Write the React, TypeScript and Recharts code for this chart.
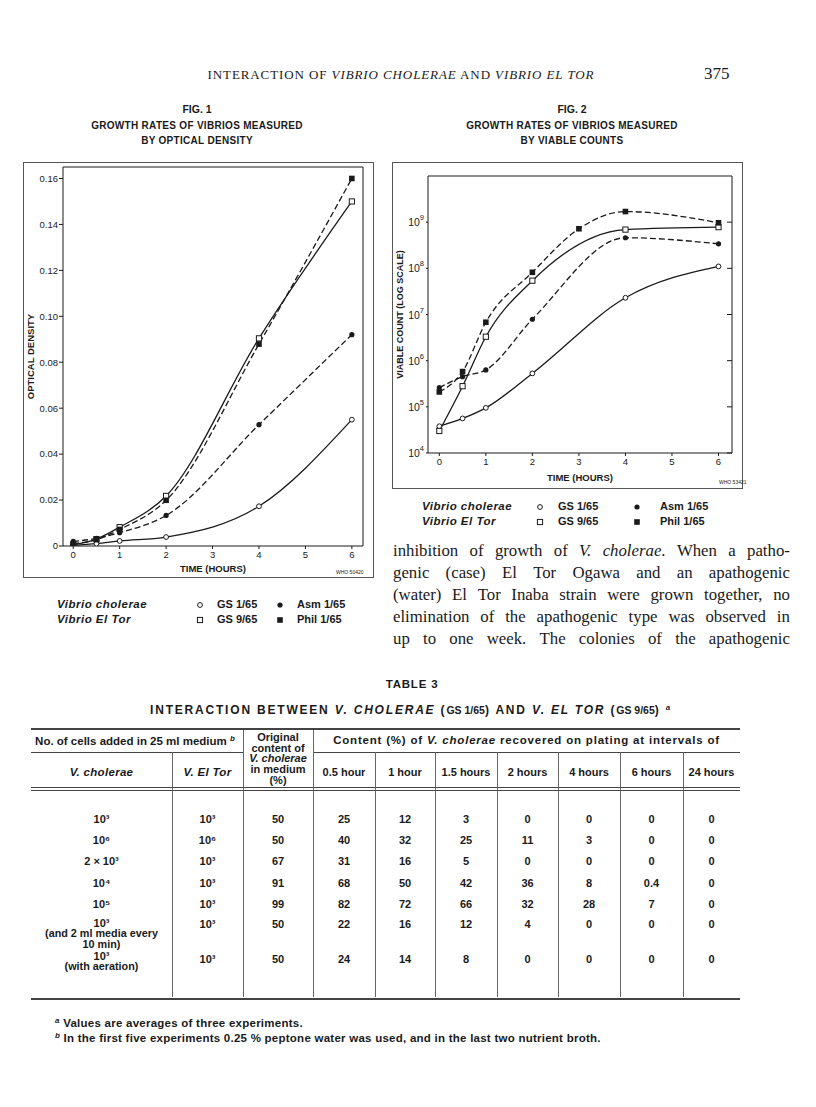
import React from 'react';
import { LineChart, Line, XAxis, YAxis } from 'recharts';

document.body.style.margin = '0';

// ---- Fig. 1: optical density ----
const odHours = [0, 0.5, 1, 2, 4, 6];
const odGS1 = [0.0003, 0.001, 0.0022, 0.0039, 0.0173, 0.055];
const odAsm1 = [0.002, 0.0033, 0.0058, 0.0133, 0.0528, 0.092];
const odGS9 = [0.0005, 0.003, 0.0082, 0.0218, 0.0904, 0.15];
const odPhil1 = [0.001, 0.0028, 0.0072, 0.0199, 0.0879, 0.16];
const odTicks = [0, 0.02, 0.04, 0.06, 0.08, 0.1, 0.12, 0.14, 0.16];
const odTickLabels = ['0', '0.02', '0.04', '0.06', '0.08', '0.10', '0.12', '0.14', '0.16'];

// ---- Fig. 2: viable counts ----
const vcHours = [0, 0.5, 1, 2, 3, 4, 6];
const vcGS1 = [3.8e4, 5.6e4, 9.5e4, 5.3e5, null, 2.3e7, 1.1e8];
const vcGS9 = [3.0e4, 2.8e5, 3.3e6, 5.4e7, null, 6.9e8, 7.8e8];
const vcAsm1 = [2.6e5, 4.5e5, 6.3e5, 7.9e6, null, 4.6e8, 3.4e8];
const vcPhil1 = [2.1e5, 5.8e5, 6.8e6, 8.2e7, 7.2e8, 1.7e9, 9.7e8];
const vcTicks = [1e4, 1e5, 1e6, 1e7, 1e8, 1e9];

const hourTicks = [0, 1, 2, 3, 4, 5, 6];

// ---- Table 3 ----
const cholCells = [
  ['10³'], ['10⁶'], ['2 × 10³'], ['10⁴'], ['10⁵'],
  ['10³', '(and 2 ml media every', '10 min)'],
  ['10³', '(with aeration)'],
];
const elTorCells = ['10³', '10⁶', '10³', '10³', '10³', '10³', '10³'];
const originalPct = ['50', '50', '67', '91', '99', '50', '50'];
const intervals = ['0.5 hour', '1 hour', '1.5 hours', '2 hours', '4 hours', '6 hours', '24 hours'];
const recovered = [
  ['25', '12', '3', '0', '0', '0', '0'],
  ['40', '32', '25', '11', '3', '0', '0'],
  ['31', '16', '5', '0', '0', '0', '0'],
  ['68', '50', '42', '36', '8', '0.4', '0'],
  ['82', '72', '66', '32', '28', '7', '0'],
  ['22', '16', '12', '4', '0', '0', '0'],
  ['24', '14', '8', '0', '0', '0', '0'],
];

const bodyLines = [
  'inhibition of growth of V. cholerae. When a patho-',
  'genic (case) El Tor Ogawa and an apathogenic',
  '(water) El Tor Inaba strain were grown together, no',
  'elimination of the apathogenic type was observed in',
  'up to one week. The colonies of the apathogenic',
];

// layout
const colEdges = [31, 172, 243, 313, 375, 435, 497, 558, 620, 683, 740];
const rowY = [819, 840, 861, 883, 904, 924, 959];
const cholRowY = [819, 840, 861, 883, 904, 923, 956];

const SANS = "'Liberation Sans', Arial, sans-serif";
const SERIF = "'Liberation Serif', 'Times New Roman', serif";
const INK = '#1a1a1a';

const odData = odHours.map((h, i) => ({ h, gs1: odGS1[i], asm1: odAsm1[i], gs9: odGS9[i], phil1: odPhil1[i] }));
const vcData = vcHours.map((h, i) => ({ h, gs1: vcGS1[i], asm1: vcAsm1[i], gs9: vcGS9[i], phil1: vcPhil1[i] }));

type Kind = 'openCircle' | 'dot' | 'openSquare' | 'square';

const marker = (kind: Kind) => (p: any) => {
  const { cx, cy, index } = p;
  const k = `${kind}-${index}`;
  if (cx == null || cy == null || p.value == null) return <g key={k} />;
  if (kind === 'openCircle') return <circle key={k} cx={cx} cy={cy} r={2.4} fill="#fff" stroke={INK} strokeWidth={1} />;
  if (kind === 'dot') return <circle key={k} cx={cx} cy={cy} r={2.6} fill={INK} />;
  if (kind === 'openSquare') return <rect key={k} x={cx - 2.6} y={cy - 2.6} width={5.2} height={5.2} fill="#fff" stroke={INK} strokeWidth={1} />;
  return <rect key={k} x={cx - 2.8} y={cy - 2.8} width={5.6} height={5.6} fill={INK} />;
};

const series = [
  { key: 'gs1', kind: 'openCircle' as Kind, dash: undefined },
  { key: 'asm1', kind: 'dot' as Kind, dash: '6 3' },
  { key: 'gs9', kind: 'openSquare' as Kind, dash: undefined },
  { key: 'phil1', kind: 'square' as Kind, dash: '6 3' },
];

const PowTick = (p: any) => {
  const exp = Math.round(Math.log10(p.payload.value));
  return (
    <text x={p.x} y={p.y} dy={4} textAnchor="end" fontFamily={SANS} fontSize={10.5} fill={INK}>
      10<tspan dy={-6} fontSize={7.5}>{exp}</tspan>
    </text>
  );
};

const At = ({ x, y, w, h, style, children }: any) => (
  <div style={{ position: 'absolute', left: x, top: y, width: w, height: h, ...style }}>{children}</div>
);

const Txt = ({ x, y, w, align = 'left', size = 11, font = SANS, weight = 700, italic = false, style, children }: any) => (
  <div
    style={{
      position: 'absolute', left: x, top: y - 8, width: w, height: 16, lineHeight: '16px',
      textAlign: align, fontSize: size, fontFamily: font, fontWeight: weight,
      fontStyle: italic ? 'italic' : 'normal', color: INK, whiteSpace: 'nowrap', ...style,
    }}
  >
    {children}
  </div>
);

const Sym = ({ x, y, kind }: { x: number; y: number; kind: Kind }) => (
  <svg style={{ position: 'absolute', left: x - 4, top: y - 4 }} width={8} height={8}>
    {marker(kind)({ cx: 4, cy: 4, index: 0, value: 1 })}
  </svg>
);

const LegendBlock = ({ x, y, sym, gs, dot, asm }: any) => (
  <>
    <Txt x={x} y={y} italic size={11.5} style={{ letterSpacing: 0.5 }}>Vibrio cholerae</Txt>
    <Txt x={x} y={y + 14.5} italic size={11.5} style={{ letterSpacing: 0.5 }}>Vibrio El Tor</Txt>
    <Sym x={sym} y={y + 1} kind="openCircle" />
    <Sym x={sym} y={y + 15.5} kind="openSquare" />
    <Txt x={gs} y={y}>GS 1/65</Txt>
    <Txt x={gs} y={y + 14.5}>GS 9/65</Txt>
    <Sym x={dot} y={y + 1} kind="dot" />
    <Sym x={dot} y={y + 15.5} kind="square" />
    <Txt x={asm} y={y}>Asm 1/65</Txt>
    <Txt x={asm} y={y + 14.5}>Phil 1/65</Txt>
  </>
);

const axisTick = { fontSize: 9.5, fontFamily: SANS, fill: INK };
const axisLabelStyle = { fontSize: 9.5, fontFamily: SANS, fontWeight: 700, fill: INK };

function Fig1() {
  return (
    <At x={24} y={163} w={349} h={414} style={{ outline: `1px solid #555` }}>
      <LineChart width={349} height={414} data={odData} margin={{ top: 4, right: 10, left: 0, bottom: 3 }}>
        <XAxis
          dataKey="h" type="number" domain={[-0.22, 6.24]} ticks={hourTicks} allowDataOverflow
          tick={axisTick} tickSize={3} stroke={INK} height={28}
          label={{ value: 'TIME (HOURS)', position: 'insideBottom', offset: 2, style: axisLabelStyle }}
        />
        <XAxis xAxisId="top" orientation="top" mirror type="number" domain={[-0.22, 6.24]} tick={false} tickLine={false} stroke={INK} />
        <YAxis
          type="number" domain={[0, 0.165]} ticks={odTicks} allowDataOverflow width={39}
          tickFormatter={(v: number) => odTickLabels[odTicks.indexOf(v)] ?? ''}
          tick={axisTick} tickSize={4} tickMargin={1} stroke={INK}
          label={{ value: 'OPTICAL DENSITY', angle: -90, position: 'insideLeft', offset: 7, style: { ...axisLabelStyle, textAnchor: 'middle' } }}
        />
        <YAxis yAxisId="r" orientation="right" mirror type="number" domain={[0, 0.165]} ticks={odTicks} tickFormatter={() => ''} tickSize={5} stroke={INK} />
        {series.map((s) => (
          <Line
            key={s.key} dataKey={s.key} type="monotone" stroke={INK} strokeWidth={1.3}
            strokeDasharray={s.dash} dot={marker(s.kind)} activeDot={false} isAnimationActive={false}
          />
        ))}
      </LineChart>
      <Txt x={312} y={409} size={5} weight={400}>WHO 50420</Txt>
    </At>
  );
}

function Fig2() {
  return (
    <At x={393} y={163} w={349} h={325} style={{ outline: `1px solid #555` }}>
      <LineChart width={349} height={325} data={vcData} margin={{ top: 13, right: 10, left: 0, bottom: 5 }}>
        <XAxis
          dataKey="h" type="number" domain={[-0.243, 6.29]} ticks={hourTicks} allowDataOverflow
          tick={axisTick} tickSize={3} stroke={INK} height={30}
          label={{ value: 'TIME (HOURS)', position: 'insideBottom', offset: 2, style: axisLabelStyle }}
        />
        <XAxis xAxisId="top" orientation="top" mirror type="number" domain={[-0.243, 6.29]} tick={false} tickLine={false} stroke={INK} />
        <YAxis
          scale="log" type="number" domain={[1e4, 1e10]} ticks={vcTicks} allowDataOverflow width={35}
          tick={<PowTick />} tickSize={2} stroke={INK}
          label={{ value: 'VIABLE COUNT (LOG SCALE)', angle: -90, position: 'insideLeft', offset: 7, style: { ...axisLabelStyle, fontSize: 9, textAnchor: 'middle' } }}
        />
        <YAxis yAxisId="r" orientation="right" mirror scale="log" type="number" domain={[1e4, 1e10]} ticks={vcTicks} allowDataOverflow tickFormatter={() => ''} tickSize={5} stroke={INK} />
        {series.map((s) => (
          <Line
            key={s.key} dataKey={s.key} type="monotone" stroke={INK} strokeWidth={1.3} connectNulls
            strokeDasharray={s.dash} dot={marker(s.kind)} activeDot={false} isAnimationActive={false}
          />
        ))}
      </LineChart>
      <Txt x={326} y={319} size={5} weight={400}>WHO 53421</Txt>
    </At>
  );
}

const Rule = ({ x1, x2, y, t = 1 }: any) => <At x={x1} y={y} w={x2 - x1} h={t} style={{ background: '#444' }} />;
const VRule = ({ x, y1, y2 }: any) => <At x={x} y={y1} w={1} h={y2 - y1} style={{ background: '#666' }} />;

const sup = { fontSize: 8, verticalAlign: 4 };

function Table3() {
  const left = colEdges[0];
  const right = colEdges[colEdges.length - 1];
  const cx = (i: number) => (colEdges[i] + colEdges[i + 1]) / 2;
  return (
    <>
      <Txt x={0} y={684} w={824} align="center" size={11.5} style={{ letterSpacing: 0.8 }}>TABLE 3</Txt>
      <Txt x={0} y={708} w={822} align="center" size={12} style={{ letterSpacing: 1.8 }}>
        INTERACTION BETWEEN <i>V. CHOLERAE</i> (<span style={{ fontSize: 10.5, letterSpacing: 0 }}>GS 1/65</span>) AND <i>V. EL TOR</i> (<span style={{ fontSize: 10.5, letterSpacing: 0 }}>GS 9/65</span>) <i style={sup}>a</i>
      </Txt>
      <Rule x1={left} x2={right} y={728} t={1.5} />
      <Rule x1={left} x2={colEdges[2]} y={752} />
      <Rule x1={colEdges[3]} x2={right} y={752} />
      <Rule x1={left} x2={right} y={787} />
      <Rule x1={left} x2={right} y={790} />
      <Rule x1={left} x2={right} y={998} t={1.5} />
      <VRule x={colEdges[1]} y1={752} y2={997} />
      <VRule x={colEdges[2]} y1={730} y2={997} />
      <VRule x={colEdges[3]} y1={730} y2={997} />
      {colEdges.slice(4, -1).map((x) => <VRule key={x} x={x} y1={752} y2={997} />)}

      <Txt x={left} y={739} w={colEdges[2] - left - 4} align="center" size={11.5}>
        No. of cells added in 25 ml medium <i style={sup}>b</i>
      </Txt>
      {['Original', 'content of', 'V. cholerae', 'in medium', '(%)'].map((t, i) => (
        <Txt key={t} x={colEdges[2]} y={736 + i * 10.7} w={colEdges[3] - colEdges[2]} align="center" italic={i === 2} style={{ lineHeight: '12px', height: 12, top: 731 + i * 10.7 }}>{t}</Txt>
      ))}
      <Txt x={colEdges[3]} y={740} w={right - colEdges[3]} align="center" size={11.5} style={{ letterSpacing: 0.8 }}>
        Content (%) of <i>V. cholerae</i> recovered on plating at intervals of
      </Txt>
      <Txt x={left} y={772} w={colEdges[1] - left} align="center" italic size={11.5} style={{ letterSpacing: 0.3 }}>V. cholerae</Txt>
      <Txt x={colEdges[1]} y={772} w={colEdges[2] - colEdges[1]} align="center" italic size={11.5} style={{ letterSpacing: 0.3 }}>V. El Tor</Txt>
      {intervals.map((t, i) => (
        <Txt key={t} x={colEdges[i + 3]} y={772} w={colEdges[i + 4] - colEdges[i + 3]} align="center">{t}</Txt>
      ))}

      {cholCells.map((lines, r) =>
        lines.map((t, j) => (
          <Txt
            key={`c${r}-${j}`} x={left} y={cholRowY[r] + j * 10.5} w={colEdges[1] - left} align="center"
            size={j > 0 ? 10.8 : 11} style={{ lineHeight: '11px', height: 11, top: cholRowY[r] + j * 10.5 - 5.5 }}
          >
            {t}
          </Txt>
        )),
      )}
      {elTorCells.map((t, r) => (
        <Txt key={`e${r}`} x={colEdges[1]} y={rowY[r]} w={colEdges[2] - colEdges[1]} align="center">{t}</Txt>
      ))}
      {originalPct.map((t, r) => (
        <Txt key={`o${r}`} x={colEdges[2]} y={rowY[r]} w={colEdges[3] - colEdges[2]} align="center">{t}</Txt>
      ))}
      {recovered.map((row, r) =>
        row.map((t, c) => (
          <Txt key={`v${r}-${c}`} x={cx(c + 3) - 30} y={rowY[r]} w={60} align="center">{t}</Txt>
        )),
      )}

      <Txt x={55} y={1021} size={11.5} style={{ letterSpacing: 0.25 }}>
        <i style={sup}>a</i> Values are averages of three experiments.
      </Txt>
      <Txt x={55} y={1036} size={11.5} style={{ letterSpacing: 0.25 }}>
        <i style={sup}>b</i> In the first five experiments 0.25 % peptone water was used, and in the last two nutrient broth.
      </Txt>
    </>
  );
}

// one justified line of body text, words spread edge to edge
const BodyLine = ({ text, y }: { text: string; y: number }) => {
  const words = text.split(' ');
  return (
    <div
      style={{
        position: 'absolute', left: 393, top: y, width: 397, height: 22, lineHeight: '22px',
        display: 'flex', justifyContent: 'space-between', whiteSpace: 'nowrap',
        fontFamily: SERIF, fontSize: 16.8, color: INK,
      }}
    >
      {words.map((w, i) => {
        if (w === 'V.') return <i key={i}>{w}</i>;
        if (w.startsWith('cholerae')) return <span key={i}><i>cholerae</i>{w.slice(8)}</span>;
        return <span key={i}>{w}</span>;
      })}
    </div>
  );
};

export default function App() {
  return (
    <div style={{ position: 'relative', width: 816, height: 1107, background: '#fff', overflow: 'hidden' }}>
      <Txt x={0} y={75} w={802} align="center" size={13} font={SERIF} weight={400} style={{ letterSpacing: 0.9 }}>
        INTERACTION OF <i>VIBRIO CHOLERAE</i> AND <i>VIBRIO EL TOR</i>
      </Txt>
      <Txt x={704} y={74} size={17} font={SERIF} weight={400}>375</Txt>

      <Txt x={0} y={109} w={394} align="center" size={10.5}>FIG. 1</Txt>
      <Txt x={0} y={126} w={394} align="center" size={10} style={{ letterSpacing: 0.3 }}>GROWTH RATES OF VIBRIOS MEASURED</Txt>
      <Txt x={0} y={141} w={394} align="center" size={10} style={{ letterSpacing: 0.3 }}>BY OPTICAL DENSITY</Txt>
      <Txt x={372} y={109} w={400} align="center" size={10.5}>FIG. 2</Txt>
      <Txt x={372} y={126} w={400} align="center" size={10} style={{ letterSpacing: 0.3 }}>GROWTH RATES OF VIBRIOS MEASURED</Txt>
      <Txt x={372} y={141} w={400} align="center" size={10} style={{ letterSpacing: 0.3 }}>BY VIABLE COUNTS</Txt>

      <Fig1 />
      <Fig2 />
      <LegendBlock x={57} y={604} sym={200} gs={217} dot={280} asm={297} />
      <LegendBlock x={422} y={506} sym={540} gs={558} dot={637} asm={660} />

      {bodyLines.map((t, i) => <BodyLine key={i} text={t} y={540 + i * 22} />)}

      <Table3 />
    </div>
  );
}
